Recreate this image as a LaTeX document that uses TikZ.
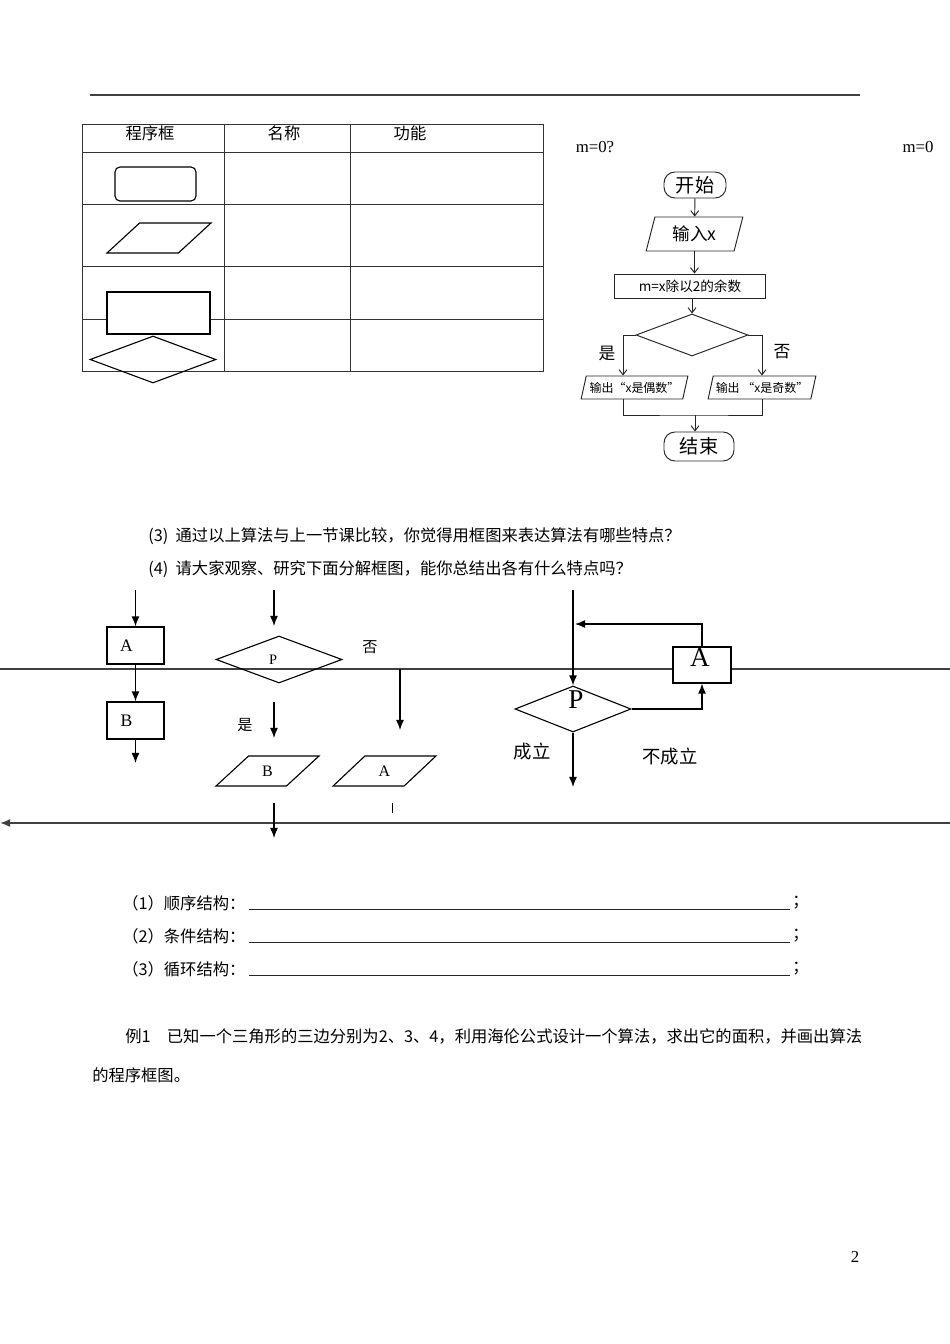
\documentclass[tikz,border=0pt]{standalone}
\usepackage{fontspec}
\setmainfont{Liberation Serif}
\newfontfamily\cjk{Noto Sans CJK SC}
\usetikzlibrary{shapes.geometric,arrows.meta}
\newlength\px
\setlength\px{0.626pt}
\newcommand\fs[1]{\fontsize{#1}{#1}\selectfont}
\begin{document}
\begin{tikzpicture}[x=0.626pt,y=-0.626pt,>={Latex[length=6.3pt,width=5pt]},
   tabline/.style={draw=black!80,line width=0.6pt},
   hline/.style={draw=black!75,line width=1pt},
   wire/.style={draw=black!85,line width=0.6pt},
   txt/.style={inner sep=0pt,font=\cjk\fs{10.2pt}},
   latin/.style={inner sep=0pt,font=\fs{10.5pt}},
   box/.style={draw,fill=white,line width=0.7pt,inner sep=0pt},
   dia/.style={draw,diamond,line width=0.7pt,inner sep=1pt},
   io/.style={draw,trapezium,trapezium stretches=true,line width=0.7pt,inner sep=1pt},
   chart/.style={draw=black!85,line width=0.6pt,inner sep=1pt,font=\cjk},
   flow/.style={wire,-{Straight Barb[length=3.2pt,width=5pt]}}]
   \useasboundingbox (0,0) rectangle (950,1344);
   %header rule
   \draw[hline] (90,95) -- (860,95);
   %table
   \draw[tabline] (82,124) rectangle (543,371);
   \foreach \y in {152,204,266,319} \draw[tabline] (82,\y) -- (543,\y);
   \foreach \x in {224,350} \draw[tabline] (\x,124) -- (\x,371);
   \node[txt] (h1) at (150,133) {程序框};
   \node[txt] (h2) at (284,133) {名称};
   \node[txt] (h3) at (410,133) {功能};
   \node[box,rounded corners=5\px,minimum width=81\px,minimum height=34\px] (t1) at (155.5,184) {};
   \node[io,trapezium left angle=50,trapezium right angle=130,minimum width=104\px,minimum height=30\px] (t2) at (159,238) {};
   \node[box,minimum width=103\px,minimum height=42\px] (t3) at (158.5,313) {};
   \node[dia,minimum width=126\px,minimum height=47\px] (t4) at (153,359.5) {};
   %flow chart
   \node[latin] (m1) at (595,147) {m=0?};
   \node[latin] (m2) at (918,147) {m=0};
   \node[chart,rounded corners=11\px,minimum width=62\px,minimum height=26\px,font=\cjk\fs{12pt}] (start) at (695,185) {开始};
   \node[chart,trapezium,trapezium stretches=true,trapezium left angle=75,trapezium right angle=105,
         minimum width=97\px,minimum height=34\px,font=\cjk\fs{11pt}] (input) at (694.5,234) {输入x};
   \node[chart,minimum width=151\px,minimum height=24\px,font=\cjk\fs{8.5pt}] (rem) at (690,286) {m=x除以2的余数};
   \node[chart,diamond,minimum width=112\px,minimum height=42\px] (dec) at (692,335) {};
   \node[chart,trapezium,trapezium stretches=true,trapezium left angle=71,trapezium right angle=109,
         minimum width=107\px,minimum height=23\px,font=\cjk\fs{7.5pt}] (outL) at (634.5,387.5) {输出“x是偶数”};
   \node[chart,trapezium,trapezium stretches=true,trapezium left angle=71,trapezium right angle=109,
         minimum width=108\px,minimum height=23\px,font=\cjk\fs{7.5pt}] (outR) at (762,387.5) {输出 “x是奇数”};
   \node[chart,rounded corners=11\px,minimum width=70\px,minimum height=29\px,font=\cjk\fs{12pt}] (stop) at (699,446.5) {结束};
   \node[txt,font=\cjk\fs{10.5pt}] (yes) at (607,353) {是};
   \node[txt,font=\cjk\fs{10.5pt}] (no) at (782,352) {否};
   \coordinate (join) at (695,415);
   \draw[flow] (start) -- (input);
   \draw[flow] (input.south) -- (input.south |- rem.north);
   \draw[flow] (rem.south -| dec.north) -- (dec.north);
   \draw[flow] (dec.west) -| ([xshift=-11.5\px]outL.north);
   \draw[flow] (dec.east) -| (outR.north);
   \draw[wire] ([xshift=-11.5\px]outL.south) |- (join) -| (outR.south);
   \draw[flow] (join) -- (join |- stop.north);
   %questions
   \node[txt,anchor=west] (q3) at (148,536) {(3)\ \ 通过以上算法与上一节课比较，你觉得用框图来表达算法有哪些特点？};
   \node[txt,anchor=west] (q4) at (148,569) {(4)\ \ 请大家观察、研究下面分解框图，能你总结出各有什么特点吗？};
   %structure lines
   \coordinate (r1) at (950,823);
   \coordinate (r0) at (0,823);
   \draw[hline] (0,669) -- (950,669);
   \draw[hline,->] (r1) -- (r0);
   %sequence
   \coordinate (s0) at (135.5,590);
   \coordinate (s1) at (135.5,763);
   \node[box,minimum width=57\px,minimum height=37\px,font=\fs{11pt}] (sA) at (135.5,645.5) {A\kern18\px};
   \node[box,minimum width=57\px,minimum height=37\px,font=\fs{11pt}] (sB) at (135.5,720.5) {B\kern18\px};
   \draw[->,line width=0.8pt] (s0) -- (sA);
   \draw[->,line width=0.8pt] (sA) -- (sB);
   \draw[->,line width=0.8pt] (sB) -- (s1);
   %condition
   \coordinate (c0) at (274,590);
   \coordinate (c1) at (274,626);
   \coordinate (c2) at (400,669);
   \coordinate (c3) at (400,730);
   \coordinate (c4) at (274,702);
   \coordinate (c5) at (274,738);
   \coordinate (c6) at (274,803);
   \coordinate (c7) at (274,838);
   \node[dia,minimum width=126\px,minimum height=47\px,font=\fs{9pt}] (cP) at (279,659.5) {P\kern12\px};
   \node[io,trapezium left angle=49,trapezium right angle=131,minimum width=103\px,minimum height=30\px,font=\fs{10pt}] (cB) at (267.5,771) {B};
   \node[io,trapezium left angle=49,trapezium right angle=131,minimum width=103\px,minimum height=30\px,font=\fs{10pt}] (cA) at (384.5,771) {A};
   \node[txt,font=\cjk\fs{9.5pt}] (cno) at (370,647) {否};
   \node[txt,font=\cjk\fs{9.5pt}] (cyes) at (245,725) {是};
   \draw[->,line width=0.8pt] (c0) -- (c1);
   \draw[->,line width=0.8pt] (c2) -- (c3);
   \draw[->,line width=0.8pt] (c4) -- (c5);
   \draw[->,line width=0.8pt] (c6) -- (c7);
   \draw[line width=0.6pt] (392,803) -- (392,813);
   %loop
   \coordinate (l0) at (573,590);
   \coordinate (l1) at (573,787);
   \coordinate (back) at (575,624);
   \node[dia,minimum width=116\px,minimum height=46\px,label={[font=\fs{17pt},yshift=9\px,xshift=3\px]center:P}] (lP) at (573,709) {};
   \node[box,minimum width=58\px,minimum height=36\px,label={[font=\fs{17pt},yshift=7\px,xshift=-2\px]center:A}] (lA) at (702,665) {};
   \node[txt,font=\cjk\fs{11.5pt}] (ok) at (532,752) {成立};
   \node[txt,font=\cjk\fs{11.5pt}] (notok) at (670,757) {不成立};
   \draw[->,line width=0.8pt] (l0) -- (lP.north);
   \draw[->,line width=0.8pt] (lP.east) -| (lA.south);
   \draw[->,line width=0.8pt] (lA.north) |- (back);
   \draw[->,line width=0.8pt] (lP.south) -- (l1);
   %answers
   \foreach \i/\w/\y in {1/顺序/903,2/条件/936,3/循环/969}{
      \node[txt,anchor=west] (a\i) at (122,\y) {（\i）\w 结构：};
      \draw[wire] (249,\y+6) -- (790,\y+6);
      \node[txt,anchor=west] (semi\i) at (792,\y) {；};
   }
   %example
   \node[txt,anchor=west] (ex) at (125,1036) {例1\quad 已知一个三角形的三边分别为2、3、4，利用海伦公式设计一个算法，求出它的面积，并画出算法};
   \node[txt,anchor=west] (ex2) at (92,1075) {的程序框图。};
   \node[latin] (page) at (855,1257) {2};
\end{tikzpicture}
\end{document}
